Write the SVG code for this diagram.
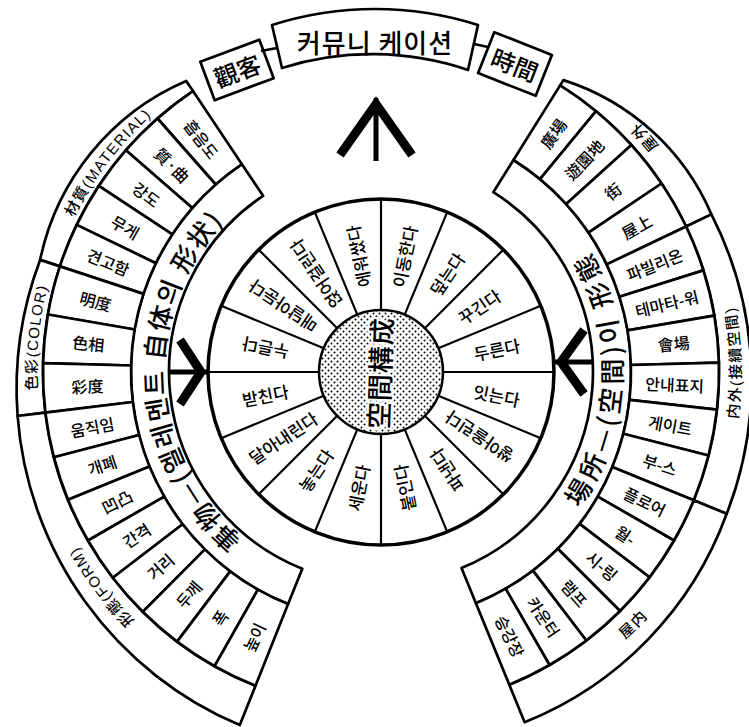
<svg xmlns="http://www.w3.org/2000/svg" width="749" height="727" viewBox="0 0 749 727">
<style>
.o{fill:#fff;stroke:#000;stroke-width:2.7;stroke-linejoin:round}
.d{fill:none;stroke:#000;stroke-width:2.2}
.t{font-family:'Noto Sans CJK KR','Noto Sans CJK JP',sans-serif;fill:#000;text-anchor:middle;dominant-baseline:central;font-weight:500}
.w{font-size:17px}
.b{font-size:16px}
.lab{font-family:'Liberation Sans','Noto Sans CJK KR',sans-serif;font-size:15px;letter-spacing:1.5px}
.ring{font-size:26px;letter-spacing:3px}
.arw{fill:none;stroke:#000;stroke-linejoin:miter;stroke-miterlimit:10}
</style>
<defs>
<pattern id="dots" width="6" height="6" patternUnits="userSpaceOnUse">
<circle cx="1.5" cy="1.5" r="1"/><circle cx="4.5" cy="4.5" r="1"/>
</pattern>
<path id="lr" d="M266.5 570.3 A229 229 0 0 1 246.4 186.7"/>
<path id="rr" d="M551.2 525.2 A229 229 0 0 0 561.5 231"/>
<path id="lm" d="M50.1 258.1 A350 350 0 0 1 185.3 81.8"/>
<path id="lc" d="M33.2 411.6 A350 350 0 0 1 48.1 263.8"/>
<path id="lf" d="M247.6 702.1 A356 356 0 0 1 27.7 415.4"/>
<path id="ro" d="M698.7 220.4 A352 352 0 0 0 567.5 73.5"/>
<path id="rn" d="M709.2 504.6 A354 354 0 0 0 701.8 222.4"/>
<path id="ri" d="M520.1 699.7 A356 356 0 0 0 708.7 511.1"/>
</defs>

<!-- top boxes -->
<g id="communication">
<path class="o" d="M272 25 A340 340 0 0 1 478 25 L468 70 A300 300 0 0 0 282 68 Z"/>
<text class="t" x="375" y="41" font-size="26" letter-spacing="1">커뮤니 케이션</text>
</g>
<g id="audience" transform="translate(237 70) rotate(-20.5)">
<rect class="o" x="-31.5" y="-20.5" width="63" height="41"/>
<text class="t" x="0" y="0" font-size="24">觀客</text>
</g>
<g id="time" transform="translate(515 64) rotate(21.6)">
<rect class="o" x="-31" y="-22" width="62" height="44"/>
<text class="t" x="0" y="0" font-size="24">時間</text>
</g>

<!-- left group -->
<g id="element-ring">
<path class="o" d="M263.1 195.8 L241.9 164.2 A250 250 0 0 0 288.1 604.1 L302.3 568.8 A212 212 0 0 1 263.1 195.8 Z"/>
<text class="t ring"><textPath href="#lr" startOffset="50%">事物—(엘레멘트 自体의 形状)</textPath></text>
</g>
<g id="material">
<path class="o" d="M59.9 266.4 L40.1 259.9 A250 250 0 0 1 186.2 81 L193 91.1 A338 338 0 0 0 59.9 266.4 Z"/>
<text class="t lab" font-size="14"><textPath href="#lm" startOffset="50%">材質(MATERIAL)</textPath></text>
</g>
<g id="color">
<path class="o" d="M45.4 412.6 L17.6 416 A365 365 0 0 1 40.1 259.9 L59.9 266.4 A338 338 0 0 0 45.4 412.6 Z"/>
<text class="t lab"><textPath href="#lc" startOffset="50%">色彩(COLOR)</textPath></text>
</g>
<g id="form">
<path class="o" d="M255.5 685.8 L239.8 725.1 A365 365 0 0 1 17.6 416 L45.4 412.6 A338 338 0 0 0 255.5 685.8 Z"/>
<text class="t lab" letter-spacing="3"><textPath href="#lf" startOffset="50%">形態(FORM)</textPath></text>
</g>

<g id="box-absorb"><path class="o" d="M215.7 184.5 L157.5 118.5 A338 338 0 0 1 193 91.1 L241.9 164.2 A250 250 0 0 0 215.7 184.5 Z"/><text class="t b" transform="translate(201.7 139) rotate(52.4)">흡음도</text></g>
<g id="box-texture"><path class="o" d="M192.3 208 L125.9 150.2 A338 338 0 0 1 157.5 118.5 L215.7 184.5 A250 250 0 0 0 192.3 208 Z"/><text class="t b" transform="translate(172.4 164.8) rotate(44.8)">質·曲</text></g>
<g id="box-strength"><path class="o" d="M172.3 234.4 L98.8 185.9 A338 338 0 0 1 125.9 150.2 L192.3 208 A250 250 0 0 0 172.3 234.4 Z"/><text class="t b" transform="translate(146.8 194.2) rotate(37.2)">강도</text></g>
<g id="box-weight"><path class="o" d="M155.9 263.2 L76.7 224.9 A338 338 0 0 1 98.8 185.9 L172.3 234.4 A250 250 0 0 0 155.9 263.2 Z"/><text class="t b" transform="translate(125.4 226.8) rotate(29.6)">무게</text></g>
<g id="box-solidity"><path class="o" d="M143.5 293.9 L59.9 266.4 A338 338 0 0 1 76.7 224.9 L155.9 263.2 A250 250 0 0 0 143.5 293.9 Z"/><text class="t b" transform="translate(108.4 261.9) rotate(22)">견고함</text></g>
<g id="box-value"><path class="o" d="M134.6 329.5 L47.9 314.5 A338 338 0 0 1 59.9 266.4 L143.5 293.9 A250 250 0 0 0 134.6 329.5 Z"/><text class="t b" transform="translate(95.7 300.9) rotate(14)">明度</text></g>
<g id="box-hue"><path class="o" d="M131.1 365.5 L43.1 363.2 A338 338 0 0 1 47.9 314.5 L134.6 329.5 A250 250 0 0 0 131.1 365.5 Z"/><text class="t b" transform="translate(88.4 343) rotate(5.6)">色相</text></g>
<g id="box-chroma"><path class="o" d="M132.8 402 L45.4 412.6 A338 338 0 0 1 43.1 363.2 L131.1 365.5 A250 250 0 0 0 132.8 402 Z"/><text class="t b" transform="translate(87.3 385.8) rotate(-2.7)">彩度</text></g>
<g id="box-motion"><path class="o" d="M139.1 435 L53.9 457.2 A338 338 0 0 1 45.4 412.6 L132.8 402 A250 250 0 0 0 139.1 435 Z"/><text class="t b" transform="translate(92.2 426.8) rotate(-10.75)">움직임</text></g>
<g id="box-open"><path class="o" d="M149.5 466.5 L68 499.7 A338 338 0 0 1 53.9 457.2 L139.1 435 A250 250 0 0 0 149.5 466.5 Z"/><text class="t b" transform="translate(102 464.8) rotate(-18.4)">개폐</text></g>
<g id="box-relief"><path class="o" d="M164.3 496.6 L88 540.5 A338 338 0 0 1 68 499.7 L149.5 466.5 A250 250 0 0 0 164.3 496.6 Z"/><text class="t b" transform="translate(116.9 501.1) rotate(-26)">凹凸</text></g>
<g id="box-interval"><path class="o" d="M182.6 524.2 L112.8 577.8 A338 338 0 0 1 88 540.5 L164.3 496.6 A250 250 0 0 0 182.6 524.2 Z"/><text class="t b" transform="translate(136.4 535.1) rotate(-33.7)">간격</text></g>
<g id="box-distance"><path class="o" d="M204.9 549.4 L142.8 611.8 A338 338 0 0 1 112.8 577.8 L182.6 524.2 A250 250 0 0 0 204.9 549.4 Z"/><text class="t b" transform="translate(160.2 566.2) rotate(-41.35)">거리</text></g>
<g id="box-thickness"><path class="o" d="M230.2 571.4 L177.1 641.6 A338 338 0 0 1 142.8 611.8 L204.9 549.4 A250 250 0 0 0 230.2 571.4 Z"/><text class="t b" transform="translate(188.3 594.1) rotate(-49)">두께</text></g>
<g id="box-width"><path class="o" d="M257.9 589.6 L214.6 666.2 A338 338 0 0 1 177.1 641.6 L230.2 571.4 A250 250 0 0 0 257.9 589.6 Z"/><text class="t b" transform="translate(219.6 617.7) rotate(-56.7)">폭</text></g>
<g id="box-height"><path class="o" d="M288.1 604.1 L255.5 685.8 A338 338 0 0 1 214.6 666.2 L257.9 589.6 A250 250 0 0 0 288.1 604.1 Z"/><text class="t b" transform="translate(253.7 637) rotate(-64.35)">높이</text></g>

<!-- right group -->
<g id="place-ring">
<path class="o" d="M493.3 192.2 L513.5 160 A250 250 0 0 1 475.9 603.3 L461.5 568.1 A212 212 0 0 0 493.3 192.2 Z"/>
<text class="t ring" letter-spacing="2"><textPath href="#rr" startOffset="50%">場所—(空間)이 形態</textPath></text>
</g>
<g id="outdoor">
<path class="o" d="M560.1 85.4 L563.4 80.1 A240 240 0 0 1 711.4 214.4 L686.1 226.5 A338 338 0 0 0 560.1 85.4 Z"/>
<text class="t lab" font-size="16"><textPath href="#ro" startOffset="50%">屋外</textPath></text>
</g>
<g id="transition">
<path class="o" d="M686.1 226.5 L711.4 214.4 A366 366 0 0 1 726.7 513.8 L693.7 500.3 A338 338 0 0 0 686.1 226.5 Z"/>
<text class="t lab"><textPath href="#rn" startOffset="50%">内外(接續空間)</textPath></text>
</g>
<g id="indoor">
<path class="o" d="M693.7 500.3 L726.7 513.8 A355.5 355.5 0 0 1 524.6 722.2 L509.3 684.7 A338 338 0 0 0 693.7 500.3 Z"/>
<text class="t lab" font-size="16"><textPath href="#ri" startOffset="50%">屋内</textPath></text>
</g>

<g id="box-plaza"><path class="o" d="M513.5 160 L560.1 85.4 A338 338 0 0 1 596 111.2 L540 179.1 A250 250 0 0 0 513.5 160 Z"/><text class="t b" transform="translate(552.8 133.4) rotate(-54.25)">廣場</text></g>
<g id="box-amusement"><path class="o" d="M540 179.1 L596 111.2 A338 338 0 0 1 631.4 145 L566.2 204.1 A250 250 0 0 0 540 179.1 Z"/><text class="t b" transform="translate(583.9 159.3) rotate(-46.35)">遊園地</text></g>
<g id="box-street"><path class="o" d="M566.2 204.1 L631.4 145 A338 338 0 0 1 661.5 183.5 L588.5 232.6 A250 250 0 0 0 566.2 204.1 Z"/><text class="t b" transform="translate(612.5 190.8) rotate(-38.05)">街</text></g>
<g id="box-rooftop"><path class="o" d="M588.5 232.6 L661.5 183.5 A338 338 0 0 1 686.1 226.5 L606.7 264.4 A250 250 0 0 0 588.5 232.6 Z"/><text class="t b" transform="translate(636.4 226.3) rotate(-29.7)">屋上</text></g>
<g id="box-pavilion"><path class="o" d="M606.7 264.4 L686.1 226.5 A338 338 0 0 1 703.4 270.4 L619.4 296.8 A250 250 0 0 0 606.7 264.4 Z"/><text class="t b" transform="translate(654.5 264.2) rotate(-21.5)">파빌리온</text></g>
<g id="box-tower"><path class="o" d="M619.4 296.8 L703.4 270.4 A338 338 0 0 1 714.3 315.6 L627.5 330.3 A250 250 0 0 0 619.4 296.8 Z"/><text class="t b" transform="translate(666.8 303.1) rotate(-13.55)">테마타-워</text></g>
<g id="box-venue"><path class="o" d="M627.5 330.3 L714.3 315.6 A338 338 0 0 1 718.9 362.6 L630.9 365 A250 250 0 0 0 627.5 330.3 Z"/><text class="t b" transform="translate(673.6 343.3) rotate(-5.6)">會場</text></g>
<g id="box-sign"><path class="o" d="M630.9 365 L718.9 362.6 A338 338 0 0 1 716.9 409.7 L629.5 399.9 A250 250 0 0 0 630.9 365 Z"/><text class="t b" transform="translate(674.7 384.3) rotate(2.4)">안내표지</text></g>
<g id="box-gate"><path class="o" d="M629.5 399.9 L716.9 409.7 A338 338 0 0 1 708.5 455.5 L623.3 433.8 A250 250 0 0 0 629.5 399.9 Z"/><text class="t b" transform="translate(670.2 424.8) rotate(10.35)">게이트</text></g>
<g id="box-booth"><path class="o" d="M623.3 433.8 L708.5 455.5 A338 338 0 0 1 693.7 500.3 L612.3 466.9 A250 250 0 0 0 623.3 433.8 Z"/><text class="t b" transform="translate(660.1 464.3) rotate(18.3)">부-스</text></g>
<g id="box-floor"><path class="o" d="M612.3 466.9 L693.7 500.3 A338 338 0 0 1 674 540.5 L597.7 496.6 A250 250 0 0 0 612.3 466.9 Z"/><text class="t b" transform="translate(645 501.3) rotate(26.1)">플로어</text></g>
<g id="box-wall"><path class="o" d="M597.7 496.6 L674 540.5 A338 338 0 0 1 649.5 577.3 L579.6 523.9 A250 250 0 0 0 597.7 496.6 Z"/><text class="t b" transform="translate(625.7 534.9) rotate(33.65)">월-</text></g>
<g id="box-ceiling"><path class="o" d="M579.6 523.9 L649.5 577.3 A338 338 0 0 1 620 611 L557.8 548.8 A250 250 0 0 0 579.6 523.9 Z"/><text class="t b" transform="translate(602.2 565.7) rotate(41.2)">시-링</text></g>
<g id="box-ramp"><path class="o" d="M557.8 548.8 L620 611 A338 338 0 0 1 586.3 640.5 L532.9 570.6 A250 250 0 0 0 557.8 548.8 Z"/><text class="t b" transform="translate(574.7 593.2) rotate(48.8)">램프</text></g>
<g id="box-counter"><path class="o" d="M532.9 570.6 L586.3 640.5 A338 338 0 0 1 549.5 665 L505.6 588.7 A250 250 0 0 0 532.9 570.6 Z"/><text class="t b" transform="translate(543.9 616.7) rotate(56.35)">카운터</text></g>
<g id="box-platform"><path class="o" d="M505.6 588.7 L549.5 665 A338 338 0 0 1 509.3 684.7 L475.9 603.3 A250 250 0 0 0 505.6 588.7 Z"/><text class="t b" transform="translate(510.3 636) rotate(63.9)">승강장</text></g>

<!-- wheel -->
<g id="wheel">
<circle cx="381" cy="372" r="173" fill="#fff" stroke="#000" stroke-width="3.5"/>
<path class="d" d="M443 372H554M438.3 395.7L540.8 438.2M424.8 415.8L503.3 494.3M404.7 429.3L447.2 531.8M381 434V545M357.3 429.3L314.8 531.8M337.2 415.8L258.7 494.3M323.7 395.7L221.2 438.2M319 372H208M323.7 348.3L221.2 305.8M337.2 328.2L258.7 249.7M357.3 314.7L314.8 212.2M381 310V199M404.7 314.7L447.2 212.2M424.8 328.2L503.3 249.7M438.3 348.3L540.8 305.8"/>
</g>
<g id="verb-move"><text class="t w" transform="translate(404 256.3) rotate(-78.75)">이동한다</text></g>
<g id="verb-cover"><text class="t w" transform="translate(446.6 273.9) rotate(-56.25)">덮는다</text></g>
<g id="verb-crumple"><text class="t w" transform="translate(479.1 306.4) rotate(-33.75)">꾸긴다</text></g>
<g id="verb-wrap"><text class="t w" transform="translate(496.7 349) rotate(-11.25)">두른다</text></g>
<g id="verb-connect"><text class="t w" transform="translate(496.7 395) rotate(11.25)">잇는다</text></g>
<g id="verb-stack"><text class="t w" transform="translate(479.1 437.6) rotate(213.75)">쌓아올린다</text></g>
<g id="verb-dig"><text class="t w" transform="translate(446.6 470.1) rotate(236.25)">파낸다</text></g>
<g id="verb-attach"><text class="t w" transform="translate(404 487.7) rotate(258.75)">붙인다</text></g>
<g id="verb-erect"><text class="t w" transform="translate(358 487.7) rotate(-78.75)">세운다</text></g>
<g id="verb-place"><text class="t w" transform="translate(315.4 470.1) rotate(-56.25)">놓는다</text></g>
<g id="verb-hang"><text class="t w" transform="translate(282.9 437.6) rotate(-33.75)">달아내린다</text></g>
<g id="verb-support"><text class="t w" transform="translate(265.3 395) rotate(-11.25)">받친다</text></g>
<g id="verb-press"><text class="t w" transform="translate(265.3 349) rotate(191.25)">누른다</text></g>
<g id="verb-suspend"><text class="t w" transform="translate(282.9 306.4) rotate(213.75)">매달아둔다</text></g>
<g id="verb-lean"><text class="t w" transform="translate(315.4 273.9) rotate(236.25)">얹어걸린다</text></g>
<g id="verb-surround"><text class="t w" transform="translate(358 256.3) rotate(258.75)">에워쌌다</text></g>

<g id="hub">
<circle cx="381" cy="372" r="62" fill="url(#dots)" stroke="#000" stroke-width="2.5"/>
<text class="t" transform="translate(379 373) rotate(-88)" font-size="27" letter-spacing="1" stroke="#fff" stroke-width="4" paint-order="stroke">空間構成</text>
</g>

<!-- connectors -->
<g id="connectors" stroke="#000">
<line x1="261" y1="51" x2="277" y2="48" stroke-width="2.5"/>
<line x1="474" y1="44" x2="488" y2="47" stroke-width="2.5"/>
<path class="arw" stroke-width="9" d="M340 155 L376 104 L412 155"/>
<line x1="376" y1="98" x2="376" y2="161" stroke-width="5"/>
<path class="arw" stroke-width="9" d="M180 340 L201 372 L180 404"/>
<line x1="170" y1="372" x2="208" y2="372" stroke-width="5"/>
<path class="arw" stroke-width="9" d="M584 330 L561 362 L584 394"/>
<line x1="554" y1="362" x2="592" y2="362" stroke-width="5"/>
</g>
</svg>
